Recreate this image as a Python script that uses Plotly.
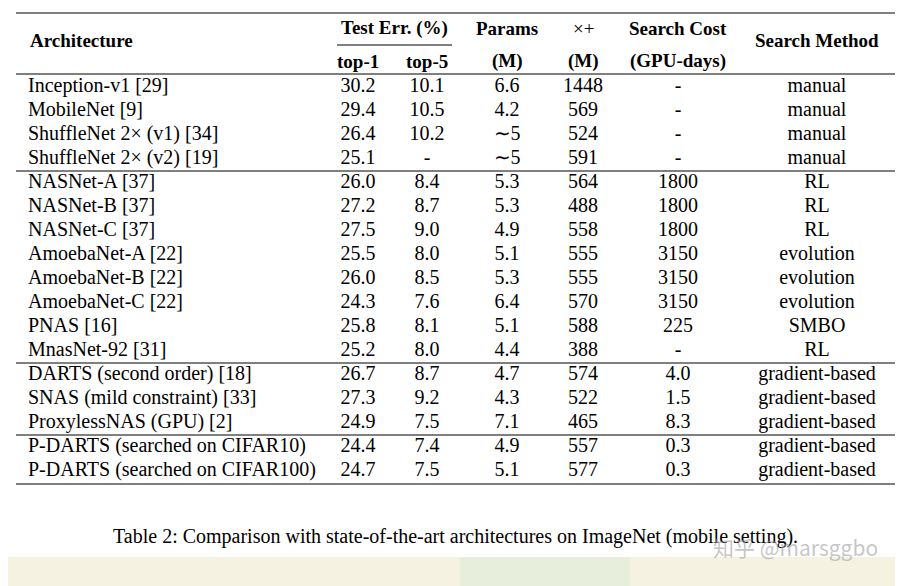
import plotly.graph_objects as go

architectures = ["Inception-v1 [29]", "MobileNet [9]", "ShuffleNet 2× (v1) [34]", "ShuffleNet 2× (v2) [19]",
                 "NASNet-A [37]", "NASNet-B [37]", "NASNet-C [37]", "AmoebaNet-A [22]", "AmoebaNet-B [22]",
                 "AmoebaNet-C [22]", "PNAS [16]", "MnasNet-92 [31]", "DARTS (second order) [18]",
                 "SNAS (mild constraint) [33]", "ProxylessNAS (GPU) [2]", "P-DARTS (searched on CIFAR10)",
                 "P-DARTS (searched on CIFAR100)"]
top1 = ["30.2", "29.4", "26.4", "25.1", "26.0", "27.2", "27.5", "25.5", "26.0", "24.3", "25.8", "25.2",
        "26.7", "27.3", "24.9", "24.4", "24.7"]
top5 = ["10.1", "10.5", "10.2", "-", "8.4", "8.7", "9.0", "8.0", "8.5", "7.6", "8.1", "8.0",
        "8.7", "9.2", "7.5", "7.4", "7.5"]
params = ["6.6", "4.2", "∼5", "∼5", "5.3", "5.3", "4.9", "5.1", "5.3", "6.4", "5.1", "4.4",
          "4.7", "4.3", "7.1", "4.9", "5.1"]
multadds = ["1448", "569", "524", "591", "564", "488", "558", "555", "555", "570", "588", "388",
            "574", "522", "465", "557", "577"]
search_cost = ["-", "-", "-", "-", "1800", "1800", "1800", "3150", "3150", "3150", "225", "-",
               "4.0", "1.5", "8.3", "0.3", "0.3"]
search_method = ["manual", "manual", "manual", "manual", "RL", "RL", "RL", "evolution", "evolution",
                 "evolution", "SMBO", "RL", "gradient-based", "gradient-based", "gradient-based",
                 "gradient-based", "gradient-based"]
group_breaks = [4, 12, 15]
caption = "Table 2: Comparison with state-of-the-art architectures on ImageNet (mobile setting)."

W, H = 903, 586
FONT = "Liberation Serif"
FS = 20
row_y = [86 + 24 * i for i in range(len(architectures))]
col_x = [358, 427, 507, 583, 678, 817]

fig = go.Figure()
fig.add_trace(go.Scatter(x=[28] * len(architectures), y=row_y, text=architectures, mode="text",
                         textposition="middle right", textfont=dict(family=FONT, size=FS, color="black"),
                         hoverinfo="skip"))
for cx, col in zip(col_x, [top1, top5, params, multadds, search_cost, search_method]):
    fig.add_trace(go.Scatter(x=[cx] * len(col), y=row_y, text=col, mode="text",
                             textposition="middle center",
                             textfont=dict(family=FONT, size=FS, color="black"), hoverinfo="skip"))

hdr = [(28, 39, "<b>Architecture</b>", "left"), (394, 27, "<b>Test Err. (%)</b>", "center"),
       (358, 60, "<b>top-1</b>", "center"), (427, 60, "<b>top-5</b>", "center"),
       (507, 27, "<b>Params</b>", "center"), (507, 60, "<b>(M)</b>", "center"),
       (583, 27, "×+", "center"), (583, 60, "<b>(M)</b>", "center"),
       (678, 27, "<b>Search Cost</b>", "center"), (678, 60, "<b>(GPU-days)</b>", "center"),
       (817, 39, "<b>Search Method</b>", "center")]
for x, y, t, a in hdr:
    fig.add_annotation(x=x, y=y, text=t, showarrow=False, xanchor=a, yanchor="middle",
                       font=dict(family=FONT, size=FS - 1, color="black"))

lines = [12, 73] + [row_y[b] - 12 for b in group_breaks] + [row_y[-1] + 13]
for y in lines:
    fig.add_shape(type="line", x0=16, x1=895, y0=y, y1=y, line=dict(color="black", width=1))
fig.add_shape(type="line", x0=337, x1=452, y0=44, y1=44, line=dict(color="black", width=1))

fig.add_shape(type="rect", x0=0, x1=W + 8, y0=556, y1=H + 8, fillcolor="#f6f2e2", line_width=0, layer="below")
fig.add_shape(type="rect", x0=460, x1=630, y0=556, y1=H + 8, fillcolor="#e8eedc", line_width=0, layer="below")
fig.add_annotation(x=455, y=535, text=caption, showarrow=False, xanchor="center", yanchor="middle",
                   font=dict(family=FONT, size=FS, color="black"))
fig.add_annotation(x=880, y=546, text="知乎 @marsggbo", showarrow=False, xanchor="right", yanchor="middle",
                   font=dict(family="Noto Sans CJK SC", size=21, color="rgba(160,160,160,0.6)"))

fig.update_layout(width=W, height=H, margin=dict(l=0, r=0, t=0, b=0), showlegend=False,
                  paper_bgcolor="white", plot_bgcolor="white",
                  xaxis=dict(range=[8, W + 8], visible=False, fixedrange=True),
                  yaxis=dict(range=[H + 7, 7], visible=False, fixedrange=True))
fig.write_html("out.html")
